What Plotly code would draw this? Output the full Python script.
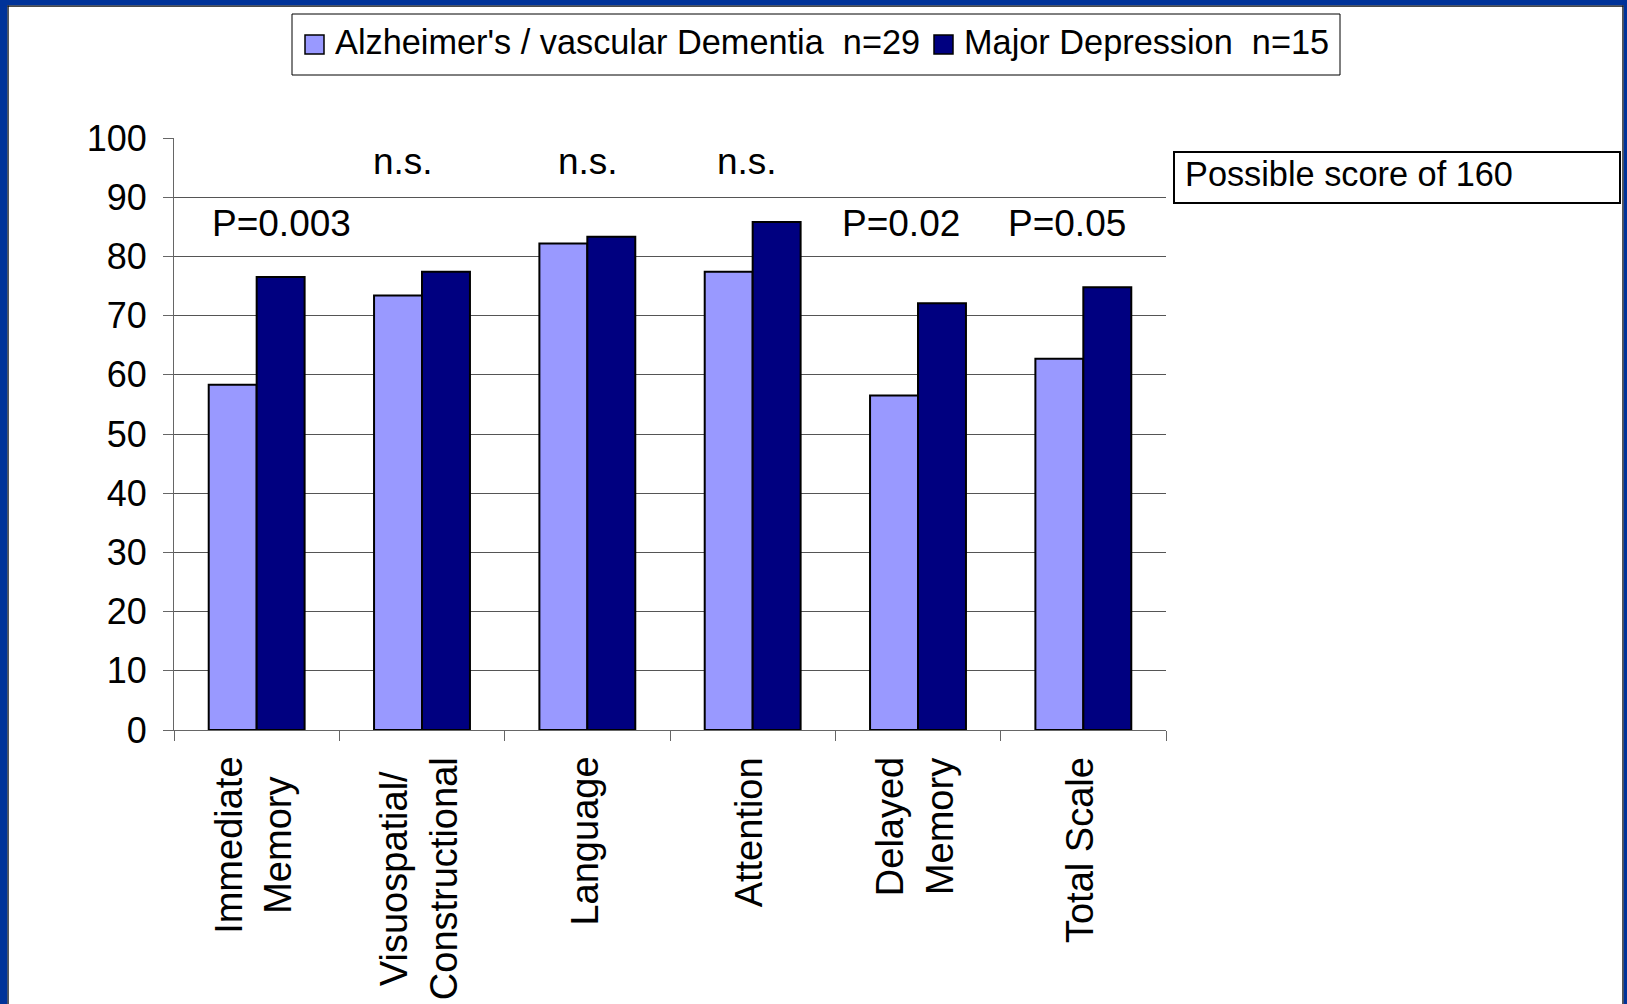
import plotly.graph_objects as go

# Categories and mean scores per group
categories = ["Immediate<br>Memory", "Visuospatial/<br>Constructional", "Language",
              "Attention", "Delayed<br>Memory", "Total Scale"]
dementia_scores = [58.3, 73.4, 82.2, 77.4, 56.5, 62.7]
depression_scores = [76.5, 77.4, 83.3, 85.8, 72.1, 74.8]
series_names = ["Alzheimer's /\u00a0vascular Dementia \u00a0n=29", "Major Depression \u00a0n=15"]

# Significance labels above groups (category index offset, y value, text)
sig_text = ["P=0.003", "n.s.", "n.s.", "n.s.", "P=0.02", "P=0.05"]
sig_x = [0.15, 0.885, 2.006, 2.968, 3.897, 4.904]
sig_y = [85.6, 96.0, 96.0, 96.0, 85.6, 85.6]

note_text = "Possible score of 160"

W, H = 1627, 1004
ML, MR, MT, MB = 174, 461, 138, 274
PW, PH = W - ML - MR, H - MT - MB

LIGHT = "#9999FF"
DARK = "#000080"
BORDER_BLUE = "#003399"
FONT = "Liberation Sans, Arial, sans-serif"


def px2x(px):
    return (px - ML) / PW


def px2y(py):
    return (H - MB - py) / PH


fig = go.Figure()
fig.add_trace(go.Bar(x=categories, y=dementia_scores, name=series_names[0],
                     marker=dict(color=LIGHT, line=dict(color="black", width=2))))
fig.add_trace(go.Bar(x=categories, y=depression_scores, name=series_names[1],
                     marker=dict(color=DARK, line=dict(color="black", width=2))))

shapes = []
annotations = []


def rect(x0, y0, x1, y1, fill=None, line_color=None, line_width=0, layer="above"):
    shapes.append(dict(type="rect", xref="paper", yref="paper",
                       x0=px2x(x0), x1=px2x(x1), y0=px2y(y1), y1=px2y(y0),
                       fillcolor=fill if fill else "rgba(0,0,0,0)",
                       line=dict(color=line_color if line_color else "rgba(0,0,0,0)",
                                 width=line_width),
                       layer=layer))


# Slide frame
rect(0, 0, 7.5, H, fill=BORDER_BLUE)
rect(0, 0, W, 5.5, fill=BORDER_BLUE)
rect(1623.5, 0, W, H, fill=BORDER_BLUE)
rect(7.5, 5.5, 8.7, H, fill="#111111")
rect(7.5, 5.5, 1623.5, 6.7, fill="#111111")
rect(1622.3, 5.5, 1623.5, H, fill="#111111")

# Legend box
rect(292, 14, 1340, 75, line_color="black", line_width=1)
rect(305, 35, 324, 54, fill=LIGHT, line_color="black", line_width=1.5)
rect(934, 35, 953, 54, fill=DARK, line_color="black", line_width=1.5)
for tx, name in zip([333, 962], series_names):
    annotations.append(dict(xref="paper", yref="paper", x=px2x(tx), y=px2y(42),
                            xanchor="left", yanchor="middle", text=name, showarrow=False,
                            font=dict(family=FONT, size=34.3, color="black")))

# Note box
rect(1174, 152, 1620, 203, line_color="black", line_width=2)
annotations.append(dict(xref="paper", yref="paper", x=px2x(1183), y=px2y(174),
                        xanchor="left", yanchor="middle", text=note_text, showarrow=False,
                        font=dict(family=FONT, size=34.3, color="black")))

# Significance labels
for t, xv, yv in zip(sig_text, sig_x, sig_y):
    annotations.append(dict(xref="x", yref="y", x=xv, y=yv, text=t, showarrow=False,
                            xanchor="center", yanchor="middle",
                            font=dict(family=FONT, size=37, color="black")))

# Rotated category labels below the axis
for i, c in enumerate(categories):
    annotations.append(dict(xref="x", yref="paper", x=i - 0.02, y=px2y(755), text=c,
                            showarrow=False, textangle=-90, xanchor="center",
                            yanchor="top", align="center",
                            font=dict(family=FONT, size=38, color="black")))

fig.update_layout(
    width=W, height=H,
    margin=dict(l=ML, r=MR, t=MT, b=MB, pad=0),
    paper_bgcolor="white", plot_bgcolor="white",
    barmode="group", bargap=0.42, bargroupgap=0,
    showlegend=False,
    shapes=shapes, annotations=annotations,
    font=dict(family=FONT, color="black"),
    hovermode=False,
)
fig.update_xaxes(type="category", tickson="boundaries", ticks="outside", ticklen=10,
                 tickcolor="#666666", showticklabels=False, showline=True,
                 linecolor="#666666", linewidth=1, showgrid=False)
fig.update_yaxes(range=[0, 100], dtick=10, ticks="outside", ticklen=10,
                 tickcolor="#666666", showline=True, linecolor="#666666", linewidth=1,
                 showgrid=True, gridcolor="#555555", gridwidth=1, zeroline=False,
                 tickfont=dict(family=FONT, size=36, color="black"),
                 ticklabelstandoff=9)

fig.write_html("out.html", config={"displayModeBar": False})
